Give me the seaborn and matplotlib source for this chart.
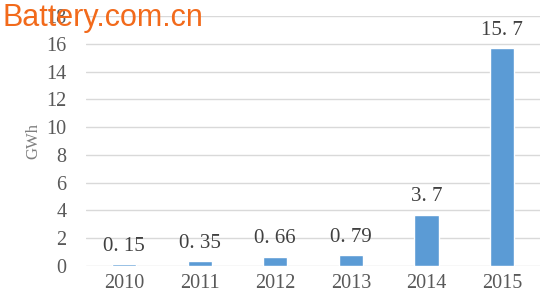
import matplotlib
matplotlib.use("Agg")
import matplotlib.pyplot as plt
import seaborn as sns
import pandas as pd

years = ["2010", "2011", "2012", "2013", "2014", "2015"]
values = [0.15, 0.35, 0.66, 0.79, 3.7, 15.7]
labels = ["0. 15", "0. 35", "0. 66", "0. 79", "3. 7", "15. 7"]
yticks = [0, 2, 4, 6, 8, 10, 12, 14, 16, 18]

sns.set_theme(style="white")
plt.rcParams['font.family'] = ['Liberation Serif', 'DejaVu Serif']

df = pd.DataFrame({"year": years, "gwh": values})

fig = plt.figure(figsize=(5.56, 3.07), dpi=100)
ax = fig.add_axes([0.155, 0.1336, 0.816, 0.8144])
sns.barplot(data=df, x="year", y="gwh", color="#5B9BD5", width=0.32,
            saturation=1, ax=ax, zorder=3)

ax.set_ylim(0, 18)
ax.set_yticks(yticks)
ax.set_xlim(-0.5, 5.5)
ax.yaxis.grid(True, color="#d9d9d9", linewidth=1, zorder=0)
ax.set_axisbelow(True)
for s in ax.spines.values():
    s.set_visible(False)
ax.tick_params(axis='both', length=0, labelsize=14.5, colors="#595959", pad=6)
ax.tick_params(axis='y', pad=14)
ax.set_xlabel("")
ax.set_ylabel("GWh", fontsize=12, color="#7f7f7f", labelpad=4)

for i, (v, t) in enumerate(zip(values, labels)):
    ax.annotate(t, (i, v), xytext=(0, 6), textcoords="offset points",
                ha="center", va="bottom", fontsize=15, color="#404040")

fig.text(0.005, 0.99, "Battery.com.cn", fontsize=22, color="#F26A1B",
         ha="left", va="top", family=["Liberation Sans", "DejaVu Sans"])

fig.savefig("out.png", dpi=100)
